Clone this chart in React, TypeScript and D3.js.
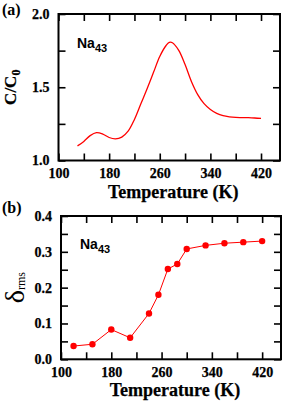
import React, { useEffect, useRef } from 'react';
import * as d3 from 'd3';

// Panel (a): specific heat C/C0 vs temperature, Na43
const heatTemps = [130, 140, 150, 160, 170, 180, 190, 200, 210, 220, 230, 240, 250, 260, 270, 275, 280, 290, 300, 310, 320, 330, 340, 350, 360, 370, 380, 390, 400, 410, 420];
const heatValues = [1.100, 1.130, 1.170, 1.190, 1.180, 1.157, 1.148, 1.160, 1.200, 1.280, 1.385, 1.490, 1.600, 1.710, 1.785, 1.806, 1.804, 1.752, 1.655, 1.540, 1.450, 1.388, 1.348, 1.322, 1.306, 1.298, 1.294, 1.293, 1.292, 1.290, 1.287];

// Panel (b): rms bond-length fluctuation vs temperature, Na43
const rmsTemps = [120, 150, 180, 210, 240, 255, 270, 285, 300, 330, 360, 390, 420];
const rmsValues = [0.037, 0.042, 0.083, 0.060, 0.128, 0.180, 0.252, 0.266, 0.308, 0.318, 0.324, 0.327, 0.330];

const tempTicks = [100, 140, 180, 220, 260, 300, 340, 380, 420];
const tempLabels = [100, 180, 260, 340, 420];
const heatTicks = [1.0, 1.25, 1.5, 1.75, 2.0];
const heatLabels = [1.0, 1.5, 2.0];
const rmsTicks = [0, 0.05, 0.1, 0.15, 0.2, 0.25, 0.3, 0.35, 0.4];
const rmsLabels = [0, 0.1, 0.2, 0.3, 0.4];

const SERIF = "'Liberation Serif', 'Times New Roman', Times, 'DejaVu Serif', serif";
const SANS = "'Liberation Sans', Arial, Helvetica, sans-serif";
const RED = '#ff0000';

type G = d3.Selection<SVGGElement, unknown, null, undefined>;

function frameAxes(g: G, x: d3.ScaleLinear<number, number>, y: d3.ScaleLinear<number, number>, yTicks: number[], yLabels: number[]) {
  const [x0, x1] = x.range();
  const [y0, y1] = y.range();
  const tick = 7;
  const fmtX = (d: d3.NumberValue) => (tempLabels.includes(+d) ? String(d) : '');
  const fmtY = (d: d3.NumberValue) => (yLabels.some(v => Math.abs(v - +d) < 1e-9) ? d3.format('.1f')(+d) : '');

  const bottom = g.append('g').attr('transform', `translate(0,${y0})`)
    .call(d3.axisBottom(x).tickValues(tempTicks).tickSize(-tick).tickPadding(8).tickFormat(fmtX));
  g.append('g').attr('transform', `translate(0,${y1})`)
    .call(d3.axisTop(x).tickValues(tempTicks).tickSize(-tick).tickFormat(() => ''));
  const left = g.append('g').attr('transform', `translate(${x0},0)`)
    .call(d3.axisLeft(y).tickValues(yTicks).tickSize(-tick).tickPadding(9).tickFormat(fmtY));
  g.append('g').attr('transform', `translate(${x1},0)`)
    .call(d3.axisRight(y).tickValues(yTicks).tickSize(-tick).tickFormat(() => ''));

  g.selectAll('.domain').remove();
  g.selectAll('.tick line').attr('stroke', '#000').attr('stroke-width', 1.6);
  [bottom, left].forEach(a => a.attr('font-size', 14).attr('font-weight', 'bold'));
  [bottom, left].forEach(a => a.selectAll('text')
    .attr('fill', '#000').attr('stroke', '#000').attr('stroke-width', 0.25)
    .style('font-family', SERIF));

  g.append('rect')
    .attr('x', x0).attr('y', y1)
    .attr('width', x1 - x0).attr('height', y0 - y1)
    .attr('fill', 'none').attr('stroke', '#000').attr('stroke-width', 2);

  g.append('text')
    .attr('x', (x0 + x1) / 2 + 4).attr('y', y0 + 37)
    .attr('text-anchor', 'middle')
    .attr('stroke', '#000').attr('stroke-width', 0.25)
    .style('font-family', SERIF).attr('font-weight', 'bold').attr('font-size', 18)
    .text('Temperature (K)');
}

function naLabel(g: G, px: number, py: number) {
  const t = g.append('text').attr('x', px).attr('y', py)
    .style('font-family', SANS).attr('font-weight', 'bold').attr('font-size', 14);
  t.append('tspan').text('Na');
  t.append('tspan').attr('dy', 4).attr('font-size', 11).text('43');
}

export default function App() {
  const ref = useRef<SVGSVGElement>(null);

  useEffect(() => {
    const svg = d3.select(ref.current);
    svg.selectAll('*').remove();

    // ---- panel (a)
    const ga = svg.append('g');
    const xa = d3.scaleLinear().domain([100, 450]).range([58.5, 280]);
    const ya = d3.scaleLinear().domain([1.0, 2.0]).range([160.5, 14]);
    frameAxes(ga, xa, ya, heatTicks, heatLabels);

    const heatLine = d3.line<number>()
      .x((_, i) => xa(heatTemps[i]))
      .y(d => ya(d))
      .curve(d3.curveCatmullRom);
    ga.append('path')
      .datum(heatValues)
      .attr('d', heatLine)
      .attr('fill', 'none')
      .attr('stroke', RED)
      .attr('stroke-width', 1.3);

    naLabel(ga, 77, 48);

    const ca = ga.append('text')
      .attr('transform', `translate(16,${ya(1.5)}) rotate(-90)`)
      .attr('text-anchor', 'middle')
      .attr('stroke', '#000').attr('stroke-width', 0.25)
      .style('font-family', SERIF).attr('font-weight', 'bold').attr('font-size', 17);
    ca.append('tspan').text('C/C');
    ca.append('tspan').attr('dy', 4).attr('font-size', 12).text('0');

    ga.append('text').attr('x', 2).attr('y', 15)
      .style('font-family', SERIF).attr('font-weight', 'bold').attr('font-size', 16)
      .text('(a)');

    // ---- panel (b)
    const gb = svg.append('g');
    const xb = d3.scaleLinear().domain([100, 450]).range([61, 281]);
    const yb = d3.scaleLinear().domain([0, 0.4]).range([359.3, 216]);
    frameAxes(gb, xb, yb, rmsTicks, rmsLabels);

    const rmsLine = d3.line<number>()
      .x((_, i) => xb(rmsTemps[i]))
      .y(d => yb(d));
    gb.append('path')
      .datum(rmsValues)
      .attr('d', rmsLine)
      .attr('fill', 'none')
      .attr('stroke', RED)
      .attr('stroke-width', 1);

    gb.selectAll('circle.pt')
      .data(rmsValues)
      .join('circle')
      .attr('class', 'pt')
      .attr('cx', (_, i) => xb(rmsTemps[i]))
      .attr('cy', d => yb(d))
      .attr('r', 3.2)
      .attr('fill', RED);

    naLabel(gb, 80, 249);

    const cb = gb.append('text')
      .attr('transform', `translate(24,${yb(0.2)}) rotate(-90)`)
      .attr('text-anchor', 'middle')
      .style('font-family', SERIF);
    cb.append('tspan').attr('font-size', 28).text('δ');
    cb.append('tspan').attr('dy', 1).attr('font-size', 12).text('rms');

    gb.append('text').attr('x', 2).attr('y', 213)
      .style('font-family', SERIF).attr('font-weight', 'bold').attr('font-size', 16)
      .text('(b)');
  }, []);

  return (
    <div style={{ position: 'absolute', left: 0, top: 0 }}>
      <svg ref={ref} width={283} height={401} style={{ display: 'block', background: '#fff' }} />
    </div>
  );
}
